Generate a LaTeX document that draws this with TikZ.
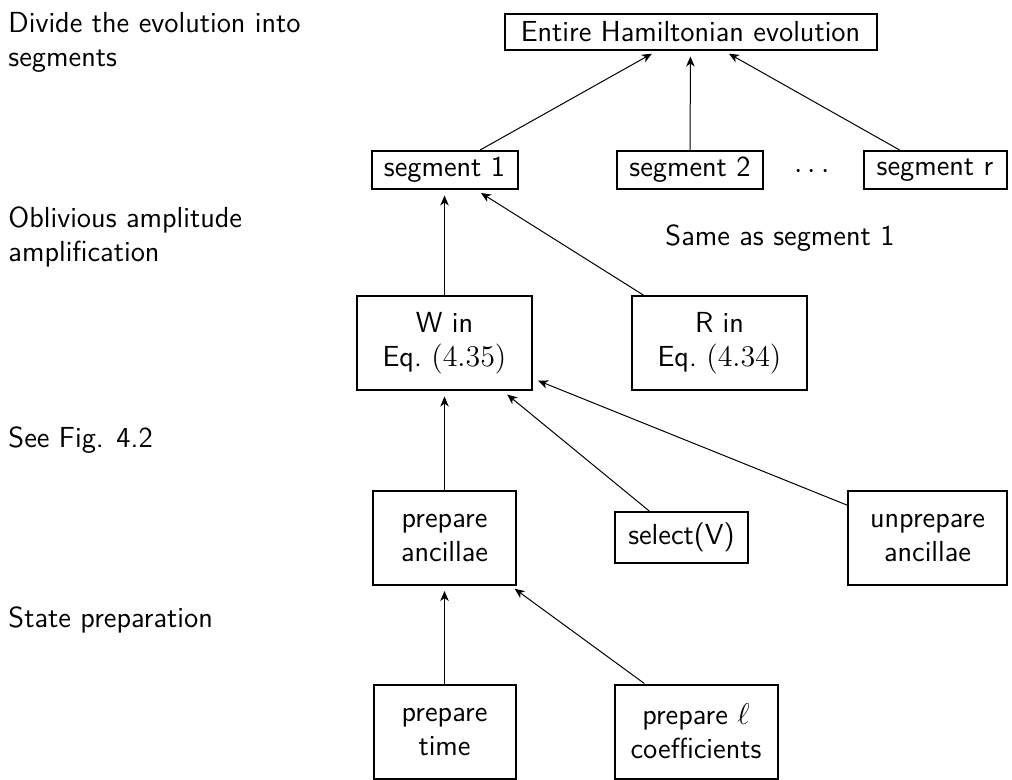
\documentclass[tikz,border=0pt]{standalone}
\usetikzlibrary{arrows.meta,calc}
\begin{document}
\begin{tikzpicture}[x=0.4pt,y=-0.4pt, font=\fontsize{11.6pt}{13.6pt}\selectfont\sffamily,
  box/.style={draw, line width=0.8pt, align=center, inner sep=0pt},
  conn/.style={-{Stealth[length=4pt,width=3.4pt,inset=1.2pt]}, line width=0.4pt, shorten >=2.2pt},
  note/.style={align=left, anchor=west, inner sep=0pt}]
\useasboundingbox (0,0) rectangle (1012,779);

% level labels on the left
\node[note] (l1) at (8,42) {Divide the evolution into\\segments};
\node[note] (l2) at (8,237) {Oblivious amplitude\\amplification};
\node[note] (l3) at (8,440) {See Fig. 4.2};
\node[note] (l4) at (8,620) {State preparation};

% whole evolution
\node[box, minimum width=148.8pt, minimum height=14.4pt] (top) at (690.5,32) {Entire Hamiltonian evolution};

% segments
\node[box, minimum width=58.4pt, minimum height=15.2pt] (seg1) at (444.5,170) {segment 1};
\node[box, minimum width=58.4pt, minimum height=15.2pt] (seg2) at (690,170) {segment 2};
\node[box, minimum width=57.2pt, minimum height=15.2pt] (segr) at (935,170) {segment r};
\node (dots) at (812,172) {$\cdots$};
\node (same) at (780,238) {Same as segment 1};

% amplitude amplification
\node[box, minimum width=70pt, minimum height=37.6pt] (W) at (444.5,343) {W in\\Eq.~$(4.35)$};
\node[box, minimum width=70pt, minimum height=37.6pt] (R) at (719.5,343) {R in\\Eq.~$(4.34)$};

% components of W
\node[box, minimum width=57.2pt, minimum height=37.6pt] (anc) at (444.5,537.5) {prepare\\ancillae};
\node[box, minimum width=53.2pt, minimum height=20.4pt] (sel) at (681.5,537.5) {select(V)};
\node[box, minimum width=63.6pt, minimum height=37.6pt] (unp) at (927.5,537.5) {unprepare\\ancillae};

% state preparation
\node[box, minimum width=56.8pt, minimum height=37.6pt] (time) at (444.5,731.5) {prepare\\time};
\node[box, minimum width=65.2pt, minimum height=37.6pt] (ell) at (696,731.5) {prepare $\ell$\\coefficients};
\coordinate (ellout) at ($(ell.north west)!0.187!(ell.north east)$);

% connectors
\draw[conn] (seg1) -- (top);
\draw[conn] (seg2) -- (top);
\draw[conn] (segr) -- (top);
\draw[conn] (W) -- (seg1);
\draw[conn] (R) -- (seg1);
\draw[conn] (anc) -- (W);
\draw[conn] (sel) -- (W);
\draw[conn] (unp) -- (W);
\draw[conn] (time) -- (anc);
\draw[conn] (ellout) -- (anc);
\end{tikzpicture}
\end{document}
